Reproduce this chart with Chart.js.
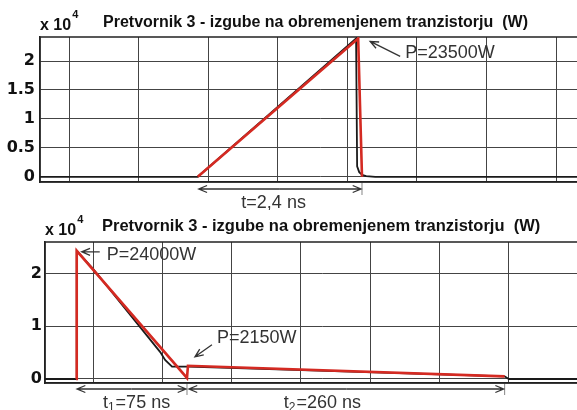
<!DOCTYPE html>
<html>
<head>
<meta charset="utf-8">
<script src="https://cdn.jsdelivr.net/npm/chart.js@4.4.0/dist/chart.umd.min.js"></script>
<style>
  html, body { margin: 0; padding: 0; background: #fff; overflow: hidden; width: 577px; height: 410px; }
  canvas { position: absolute; left: 0; }
  #grafGornji { top: 0; }
  #grafSpodnji { top: 210px; }
</style>
</head>
<body>
<canvas id="grafGornji" width="600" height="210"></canvas>
<canvas id="grafSpodnji" width="600" height="200"></canvas>
<script>
const naslov = 'Pretvornik 3 - izgube na obremenjenem tranzistorju  (W)';

// Zgornji graf: vklop, t = 2,4 ns
const gornjiMreza = [1, 2, 3, 4, 5, 6, 7, 8];
const gornjiYTicks = [0, 5000, 10000, 15000, 20000];
const gornjiCrna = [[0.58, 0], [2.85, 0], [5.125, 23900], [5.14, 1800], [5.17, 800], [5.21, 350], [5.27, 100], [5.4, 0], [8.7, 0]];
const gornjiRdeca = [[2.85, 0], [5.155, 23900], [5.21, 0]];

// Spodnji graf: izklop, t1 = 75 ns, t2 = 260 ns
const spodnjiMreza = [1, 2, 3, 4, 5, 6, 7, 8];
const spodnjiYTicks = [0, 10000, 20000];
const spodnjiCrna = [[0.3, 0], [0.755, 0], [0.765, 24300], [1.0, 20900], [1.97, 5100], [2.04, 3600], [2.14, 2350], [2.37, 2350], [6.94, 500], [7.0, 0], [8.4, 0]];
const spodnjiRdeca = [[0.755, 0], [0.765, 24300], [2.356, 200], [2.37, 2500], [6.94, 500]];

function tocke(arr) {
  return arr.map(p => ({ x: p[0], y: p[1] }));
}

function puscica(ctx, x1, y1, x2, y2) {
  ctx.beginPath();
  ctx.moveTo(x1, y1);
  ctx.lineTo(x2, y2);
  const kot = Math.atan2(y2 - y1, x2 - x1);
  const d = 9;
  ctx.moveTo(x2 - d * Math.cos(kot - 0.4), y2 - d * Math.sin(kot - 0.4));
  ctx.lineTo(x2, y2);
  ctx.lineTo(x2 - d * Math.cos(kot + 0.4), y2 - d * Math.sin(kot + 0.4));
  ctx.stroke();
}

// besedilo z indeksom (t1, t2), centrirano na x
function napisZIndeksom(ctx, deli, x, y) {
  const velik = '18px "Liberation Sans", Arial, sans-serif';
  const mali = '12px "Liberation Sans", Arial, sans-serif';
  ctx.font = velik;
  const w1 = ctx.measureText(deli[0]).width;
  const w3 = ctx.measureText(deli[2]).width;
  ctx.font = mali;
  const w2 = deli[1] ? ctx.measureText(deli[1]).width + 1 : 0;
  let zac = x - (w1 + w2 + w3) / 2;
  ctx.textAlign = 'left';
  ctx.font = velik;
  ctx.fillText(deli[0], zac, y);
  if (deli[1]) {
    ctx.font = mali;
    ctx.fillText(deli[1], zac + w1, y + 5);
  }
  ctx.font = velik;
  ctx.fillText(deli[2], zac + w1 + w2, y);
}

// risanje okvirja, naslova in oznak
const oznakePlugin = {
  id: 'oznake',
  beforeDatasetsDraw(chart) {
    const a = chart.chartArea;
    const ctx = chart.ctx;
    ctx.save();
    ctx.strokeStyle = '#222';
    ctx.lineWidth = 1.5;
    ctx.strokeRect(a.left, a.top, a.right - a.left, a.bottom - a.top);
    ctx.restore();
  },
  afterDraw(chart, args, opts) {
    const a = chart.chartArea;
    const ctx = chart.ctx;
    const xs = chart.scales.x;
    const ys = chart.scales.y;
    ctx.save();
    ctx.fillStyle = '#111';
    ctx.textBaseline = 'alphabetic';
    ctx.textAlign = 'left';
    ctx.font = 'bold ' + opts.velikostNaslova + 'px "Liberation Sans", Arial, sans-serif';
    ctx.fillText(naslov, opts.naslovX, a.top - opts.naslovDvig);
    ctx.font = 'bold 16px "Liberation Sans", Arial, sans-serif';
    ctx.fillText('x 10', a.left, a.top - 7);
    const w = ctx.measureText('x 10').width;
    ctx.font = 'bold 11px "Liberation Sans", Arial, sans-serif';
    ctx.fillText('4', a.left + w + 1, a.top - 19);

    ctx.strokeStyle = '#333';
    ctx.fillStyle = '#333';
    ctx.lineWidth = 1.3;
    ctx.font = '18px "Liberation Sans", Arial, sans-serif';
    ctx.textBaseline = 'middle';
    opts.vrhovi.forEach(v => {
      const px = xs.getPixelForValue(v.x);
      const py = ys.getPixelForValue(v.y);
      puscica(ctx, px + v.rep[0], py + v.rep[1], px + v.konica[0], py + v.konica[1]);
      ctx.fillText(v.tekst, px + v.besedilo[0], py + v.besedilo[1]);
    });
    opts.intervali.forEach(iv => {
      const x1 = xs.getPixelForValue(iv.od);
      const x2 = xs.getPixelForValue(iv.do);
      const y = a.bottom + iv.dol;
      ctx.lineWidth = 1.3;
      puscica(ctx, (x1 + x2) / 2, y, x1 + 1, y);
      puscica(ctx, (x1 + x2) / 2, y, x2 - 1, y);
      ctx.lineWidth = 0.6;
      ctx.beginPath();
      ctx.moveTo(x2, a.bottom);
      ctx.lineTo(x2, y + 6);
      ctx.stroke();
      napisZIndeksom(ctx, iv.tekst, xs.getPixelForValue(iv.sredina), a.bottom + iv.besediloDol);
    });
    ctx.restore();
  }
};

function napraviGraf(id, crna, rdeca, mreza, yTicks, cfg) {
  const ctx = document.getElementById(id).getContext('2d');
  return new Chart(ctx, {
    type: 'line',
    data: {
      datasets: [
        {
          data: tocke(rdeca),
          borderColor: '#d42a22',
          borderWidth: 2.6,
          pointRadius: 0,
          tension: 0,
          fill: false,
          order: 1
        },
        {
          data: tocke(crna),
          borderColor: '#1a1a1a',
          borderWidth: 1.8,
          pointRadius: 0,
          tension: 0,
          fill: false,
          order: 2
        }
      ]
    },
    options: {
      responsive: false,
      devicePixelRatio: 1,
      animation: false,
      layout: { padding: { top: cfg.zgoraj, bottom: cfg.spodaj, left: 0, right: 0 } },
      plugins: {
        legend: { display: false },
        tooltip: { enabled: false },
        oznake: cfg.oznake
      },
      scales: {
        x: {
          type: 'linear',
          min: cfg.xMin,
          max: cfg.xMax,
          afterBuildTicks: s => { s.ticks = mreza.map(v => ({ value: v })); },
          afterFit: s => { s.height = 0; },
          ticks: { display: false },
          grid: { color: '#444', lineWidth: 1, drawTicks: false },
          border: { display: true, color: '#222', width: 1.5 }
        },
        y: {
          min: cfg.yMin,
          max: cfg.yMax,
          afterBuildTicks: s => { s.ticks = yTicks.map(v => ({ value: v })); },
          afterFit: s => { s.width = cfg.levo; },
          ticks: {
            padding: cfg.odmik,
            color: '#111',
            font: { family: '"DejaVu Sans", sans-serif', weight: 'bold', size: 16 },
            callback: v => String(v / 10000)
          },
          grid: { color: '#444', lineWidth: 1, drawTicks: false },
          border: { display: true, color: '#222', width: 1.5 }
        }
      }
    },
    plugins: [oznakePlugin]
  });
}

napraviGraf('grafGornji', gornjiCrna, gornjiRdeca, gornjiMreza, gornjiYTicks, {
  xMin: 0.583, xMax: 8.63, yMin: -900, yMax: 24150,
  zgoraj: 37, spodaj: 28, levo: 40, odmik: 5,
  oznake: {
    velikostNaslova: 16, naslovX: 103, naslovDvig: 10,
    vrhovi: [
      { x: 5.155, y: 23900, tekst: 'P=23500W', konica: [12, 3], rep: [42, 18], besedilo: [47, 15] }
    ],
    intervali: [
      { od: 2.85, do: 5.21, dol: 7, tekst: ['t', '', '=2,4 ns'], sredina: 3.94, besediloDol: 21 }
    ]
  }
});

napraviGraf('grafSpodnji', spodnjiCrna, spodnjiRdeca, spodnjiMreza, spodnjiYTicks, {
  xMin: 0.307, xMax: 8.316, yMin: -760, yMax: 25970,
  zgoraj: 32, spodaj: 27, levo: 45, odmik: 3,
  oznake: {
    velikostNaslova: 16.5, naslovX: 102, naslovDvig: 11,
    vrhovi: [
      { x: 0.765, y: 24300, tekst: 'P=24000W', konica: [5, 1], rep: [23, 1], besedilo: [30, 4] },
      { x: 2.37, y: 2500, tekst: 'P=2150W', konica: [7, -9], rep: [24, -21], besedilo: [29, -28] }
    ],
    intervali: [
      { od: 0.755, do: 2.356, dol: 6, tekst: ['t', '1', '=75 ns'], sredina: 1.628, besediloDol: 20 },
      { od: 2.37, do: 6.94, dol: 6, tekst: ['t', '2', '=260 ns'], sredina: 4.31, besediloDol: 20 }
    ]
  }
});
</script>
</body>
</html>
